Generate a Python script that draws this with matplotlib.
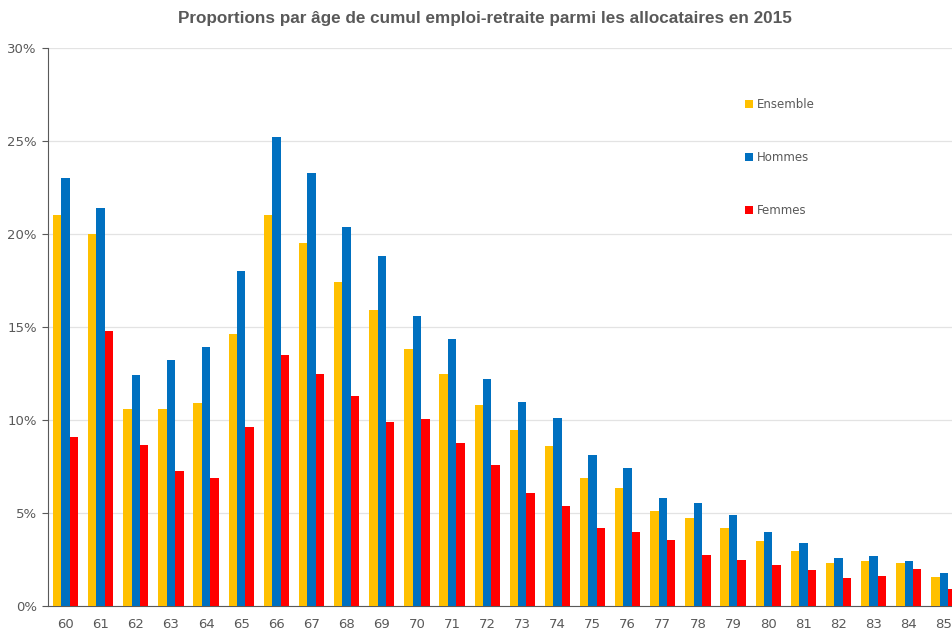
import matplotlib
matplotlib.use("Agg")
import matplotlib.pyplot as plt
import numpy as np
from matplotlib.ticker import FuncFormatter

ages = [str(a) for a in range(60, 86)]
ensemble = [21.0, 20.0, 10.6, 10.6, 10.9, 14.6, 21.0, 19.5, 17.4, 15.9, 13.8, 12.5, 10.8,
            9.45, 8.6, 6.9, 6.35, 5.1, 4.75, 4.2, 3.5, 2.95, 2.3, 2.4, 2.3, 1.55]
hommes = [23.0, 21.4, 12.4, 13.2, 13.9, 18.0, 25.2, 23.3, 20.4, 18.8, 15.6, 14.35, 12.2,
          10.95, 10.1, 8.1, 7.4, 5.8, 5.55, 4.9, 4.0, 3.4, 2.6, 2.7, 2.4, 1.8]
femmes = [9.1, 14.8, 8.65, 7.25, 6.9, 9.6, 13.5, 12.5, 11.3, 9.9, 10.05, 8.75, 7.6,
          6.1, 5.4, 4.2, 4.0, 3.55, 2.75, 2.5, 2.2, 1.95, 1.5, 1.6, 2.0, 0.9]
series_names = ["Ensemble", "Hommes", "Femmes"]
colors = ["#FFC000", "#0070C0", "#FF0000"]
title = "Proportions par âge de cumul emploi-retraite parmi les allocataires en 2015"

fig = plt.figure(figsize=(9.53, 6.30), dpi=100)
ax = fig.add_axes([48/953, 24/630, 1 - 48/953, (606-48)/630])

x = np.arange(len(ages))
w = 0.24
for i, (vals, name, c) in enumerate(zip([ensemble, hommes, femmes], series_names, colors)):
    ax.bar(x + (i - 1) * w, vals, width=w, color=c, label=name, zorder=3)

ax.set_xlim(-0.5, 25.26)
ax.set_ylim(0, 30)
ax.set_yticks(np.arange(0, 31, 5))
ax.yaxis.set_major_formatter(FuncFormatter(lambda v, p: f"{int(v)}%"))
ax.set_xticks(x)
ax.set_xticklabels(ages)
ax.grid(axis="y", color="#e3e3e3", linewidth=0.9, zorder=0)
for s in ["top", "right"]:
    ax.spines[s].set_visible(False)
ax.spines["left"].set_color("#595959")
ax.spines["bottom"].set_color("#595959")
ax.tick_params(axis="x", length=0, pad=9, labelsize=9.5, labelcolor="#595959")
ax.tick_params(axis="y", length=4, width=0.8, color="#595959", pad=4, labelsize=9.5, labelcolor="#595959")

fig.text(485/953, 1 - 19/630, title, ha="center", va="center", fontsize=12.35,
         fontweight="bold", color="#595959", family=["Liberation Sans", "DejaVu Sans"])

leg = ax.legend(loc="upper left", bbox_to_anchor=(739/953, 1 - 92/630), bbox_transform=fig.transFigure,
                frameon=False, fontsize=8.5, handlelength=0.65, handleheight=0.65, handletextpad=0.35,
                labelspacing=3.4, borderpad=0)
for t in leg.get_texts():
    t.set_color("#595959")

fig.savefig("out.png", dpi=100)
